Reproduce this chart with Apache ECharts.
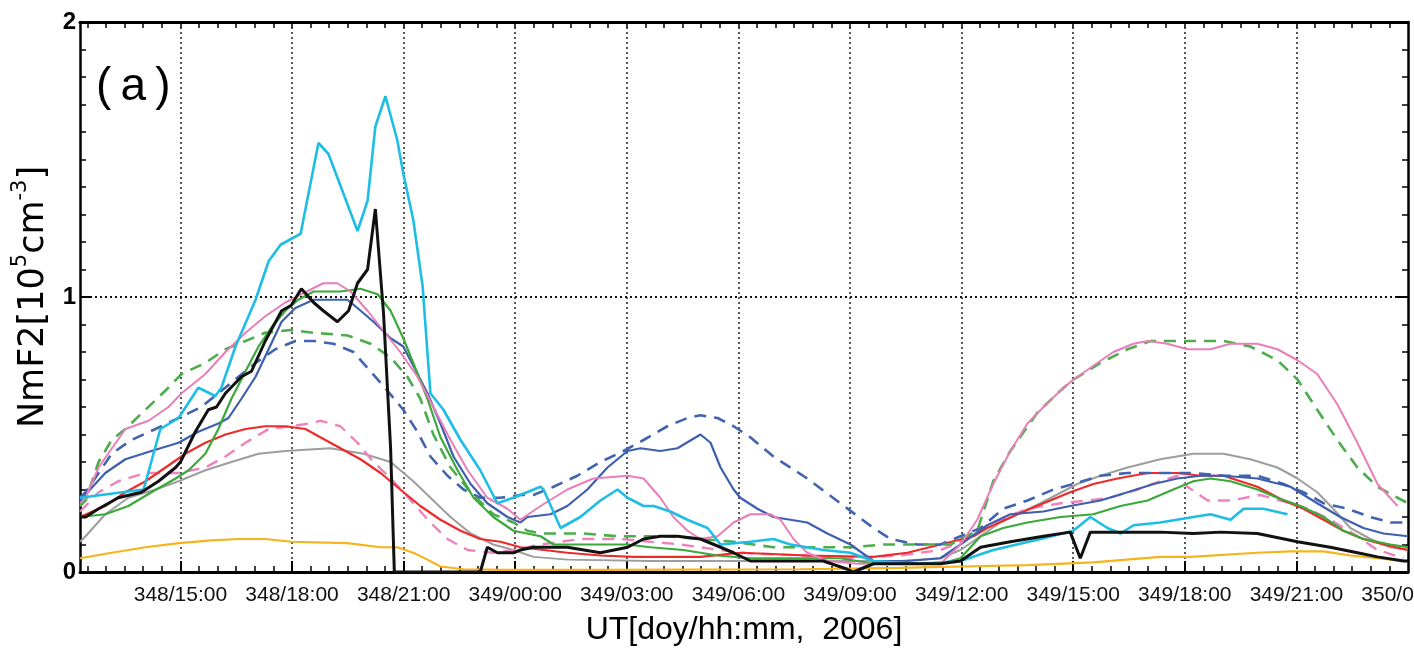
<!DOCTYPE html>
<html>
<head>
<meta charset="utf-8">
<title>NmF2 (a)</title>
<script src="https://cdn.jsdelivr.net/npm/echarts@6.0.0/dist/echarts.min.js"></script>
<style>
html, body { margin: 0; padding: 0; background: #fff; }
#chart { width: 1414px; height: 652px; }
</style>
</head>
<body>
<div id="chart"></div>
<script>
var chart = echarts.init(document.getElementById('chart'));

// x = hours from 348/00:00 UT (2006), y = NmF2 in 1e5 cm^-3
var xMin = 12.3, xMax = 48;
var majorHours = [15, 18, 21, 24, 27, 30, 33, 36, 39, 42, 45, 48];
var gridHours = [15, 18, 21, 24, 27, 30, 33, 36, 39, 42, 45];
var halfHours = [];
for (var h = 12.5; h < 48; h += 0.5) halfHours.push(h);

var cyanSolid = [[12.3,.27],[14.01,.30],[14.46,.52],[14.95,.56],[15.48,.67],[15.94,.64],[16.10,.67],[16.48,.82],[17.02,.99],[17.37,1.13],[17.69,1.19],[18.23,1.23],[18.71,1.56],[18.98,1.52],[19.76,1.24],[20.03,1.35],[20.24,1.62],[20.51,1.73],[20.83,1.57],[20.99,1.45],[21.26,1.28],[21.51,1.04],[21.72,.65],[22.07,.59],[22.53,.48],[23.06,.37],[23.52,.25],[23.95,.27],[24.68,.31],[24.76,.30],[25.22,.16],[25.75,.20],[26.29,.26],[26.75,.30],[27.02,.27],[27.45,.24],[27.72,.24],[28.17,.22],[28.63,.19],[29.17,.16],[29.52,.10],[30.32,.11],[30.94,.12],[31.40,.10],[32.28,.08],[33.01,.07],[33.63,.04],[34.89,.03],[35.97,.04],[36.85,.08],[38.12,.12],[39.0,.15],[39.46,.20],[39.92,.16],[40.27,.14],[40.62,.17],[41.34,.18],[42.23,.20],[42.69,.21],[43.23,.19],[43.58,.23],[44.11,.23],[44.76,.21]];

var blackSolid = [[12.3,.20],[12.45,.20],[12.80,.23],[13.33,.27],[13.95,.29],[14.41,.33],[14.87,.38],[15.0,.40],[15.40,.51],[15.75,.59],[15.97,.60],[16.21,.65],[16.64,.71],[16.91,.73],[17.28,.84],[17.72,.95],[17.98,.97],[18.25,1.03],[18.58,.98],[18.84,.95],[19.22,.91],[19.52,.95],[19.76,1.05],[20.03,1.10],[20.24,1.32],[20.46,.94],[20.65,.45],[20.75,0],[23.06,0],[23.25,.09],[23.52,.07],[23.95,.07],[24.14,.08],[24.49,.09],[25.40,.09],[26.29,.07],[27.02,.09],[27.45,.12],[27.90,.13],[28.36,.13],[28.98,.12],[29.52,.09],[29.87,.07],[30.32,.04],[31.40,.04],[32.28,.04],[32.93,.01],[33.09,0],[33.63,.03],[34.54,.03],[35.43,.03],[35.97,.04],[36.51,.09],[37.31,.11],[38.20,.13],[38.92,.145],[39.19,.05],[39.46,.145],[40.46,.145],[41.34,.145],[42.23,.14],[42.96,.145],[43.95,.14],[45.03,.11],[45.91,.09],[46.64,.07],[47.18,.055],[47.88,.04],[48,.04]];

var pinkSolid = [[12.3,.25],[12.45,.27],[12.80,.38],[13.52,.52],[14.14,.55],[14.68,.60],[15.03,.65],[15.67,.72],[16.21,.80],[16.75,.87],[17.28,.93],[17.82,.98],[18.25,1.01],[18.84,1.05],[19.22,1.05],[19.57,1.02],[20.03,.95],[20.38,.89],[20.91,.80],[21.37,.71],[21.80,.60],[22.26,.48],[22.72,.37],[23.25,.27],[23.79,.23],[24.14,.19],[24.68,.24],[25.40,.30],[26.10,.34],[27.02,.35],[27.45,.34],[27.90,.27],[28.25,.20],[28.63,.15],[28.98,.12],[29.44,.13],[29.87,.18],[30.32,.21],[30.86,.21],[31.13,.19],[31.48,.12],[31.85,.07],[32.39,.04],[33.20,.03],[35.43,.03],[35.97,.10],[36.42,.19],[36.85,.32],[37.31,.44],[37.77,.54],[38.20,.60],[38.66,.66],[39.01,.70],[39.54,.75],[40.08,.80],[40.62,.83],[41.00,.84],[41.53,.83],[42.07,.81],[42.69,.81],[43.23,.83],[43.95,.83],[44.49,.81],[45.03,.77],[45.56,.72],[46.10,.61],[46.64,.47],[47.18,.32],[47.72,.24]];

var greenSolid = [[12.3,.20],[12.98,.21],[13.60,.24],[14.22,.29],[14.87,.34],[15.22,.37],[15.67,.43],[16.02,.52],[16.37,.63],[16.75,.73],[17.10,.82],[17.45,.89],[17.82,.95],[18.17,.99],[18.58,1.02],[19.30,1.02],[19.84,1.03],[20.30,1.01],[20.65,.95],[20.99,.85],[21.26,.76],[21.64,.63],[21.99,.49],[22.45,.37],[22.88,.27],[23.41,.20],[23.95,.15],[24.68,.13],[25.03,.10],[25.83,.10],[27.02,.10],[27.63,.09],[28.52,.08],[29.44,.06],[30.32,.05],[31.85,.05],[32.74,.05],[33.63,.03],[35.43,.03],[35.97,.05],[36.51,.13],[37.12,.16],[37.77,.18],[38.66,.20],[39.54,.21],[40.27,.24],[41.00,.26],[41.69,.30],[42.23,.33],[42.69,.34],[43.23,.33],[43.95,.30],[44.49,.27],[45.11,.24],[45.73,.20],[46.26,.15],[46.80,.12],[47.53,.10],[48,.09]];

var blueSolid = [[12.3,.26],[12.98,.36],[13.52,.41],[14.22,.44],[14.95,.47],[15.48,.51],[16.02,.54],[16.29,.56],[16.64,.63],[17.02,.71],[17.37,.81],[17.72,.91],[18.09,.96],[18.58,.99],[19.49,.99],[19.76,.96],[20.19,.91],[20.65,.85],[20.99,.82],[21.26,.75],[21.64,.65],[21.99,.54],[22.34,.42],[22.80,.32],[23.25,.25],[23.79,.20],[24.14,.18],[24.33,.20],[24.95,.21],[25.40,.24],[25.94,.30],[26.48,.38],[27.02,.44],[27.37,.45],[27.90,.44],[28.36,.45],[28.98,.50],[29.25,.47],[29.52,.38],[29.87,.30],[30.05,.27],[30.51,.23],[30.94,.20],[31.85,.18],[32.39,.14],[33.01,.10],[33.63,.04],[34.54,.04],[35.43,.05],[35.97,.10],[36.69,.17],[37.31,.21],[38.20,.22],[38.92,.24],[39.73,.26],[40.46,.29],[41.16,.32],[41.80,.34],[42.42,.35],[43.04,.35],[43.95,.34],[44.84,.31],[45.56,.25],[46.18,.20],[46.80,.16],[47.34,.14],[48,.13]];

var greenDashed = [[12.3,.24],[12.45,.26],[12.80,.40],[13.15,.48],[13.52,.52],[14.06,.59],[14.60,.66],[15.03,.72],[15.67,.76],[16.21,.81],[16.75,.84],[17.28,.87],[17.96,.88],[18.58,.87],[19.49,.86],[20.11,.83],[20.65,.78],[21.10,.71],[21.45,.63],[21.80,.50],[22.26,.38],[22.80,.29],[23.41,.21],[23.95,.18],[24.33,.15],[24.68,.14],[25.83,.14],[26.75,.13],[28.09,.13],[28.98,.12],[29.87,.11],[30.94,.09],[33.01,.09],[33.90,.10],[35.70,.10],[36.42,.15],[36.85,.33],[37.31,.44],[38.04,.58],[38.66,.66],[39.01,.70],[39.73,.76],[40.46,.81],[41.08,.84],[41.80,.84],[42.42,.84],[43.04,.84],[43.76,.82],[44.49,.77],[45.03,.70],[45.56,.59],[46.10,.48],[46.64,.38],[47.18,.31],[47.72,.27],[48,.25]];

var blueDashed = [[12.3,.27],[12.45,.29],[13.15,.43],[13.68,.48],[14.33,.52],[14.95,.56],[15.56,.60],[16.02,.65],[16.56,.71],[17.02,.76],[17.55,.81],[18.09,.84],[18.58,.84],[19.11,.83],[19.65,.80],[20.11,.73],[20.56,.66],[20.99,.59],[21.37,.51],[21.72,.42],[22.18,.35],[22.61,.30],[23.06,.27],[23.60,.27],[24.14,.28],[24.49,.28],[25.03,.31],[25.67,.35],[26.29,.40],[26.91,.44],[27.45,.48],[28.09,.53],[28.63,.56],[28.98,.57],[29.44,.56],[29.87,.53],[30.32,.49],[30.94,.42],[31.85,.34],[32.74,.25],[33.63,.16],[34.09,.12],[34.81,.10],[35.43,.10],[35.97,.13],[36.51,.16],[37.12,.23],[37.77,.26],[38.47,.30],[39.01,.32],[39.73,.35],[40.46,.36],[41.34,.36],[42.23,.36],[43.04,.35],[43.95,.35],[44.65,.32],[45.19,.29],[45.73,.25],[46.37,.23],[46.99,.20],[47.53,.18],[48,.18]];

var redSolid = [[12.3,.20],[12.98,.24],[13.52,.29],[14.06,.33],[14.60,.38],[15.13,.43],[15.67,.47],[16.21,.50],[16.75,.52],[17.28,.53],[17.82,.53],[18.36,.52],[18.76,.49],[19.30,.45],[19.84,.41],[20.38,.36],[20.91,.30],[21.45,.24],[21.99,.19],[22.53,.15],[23.06,.12],[23.60,.11],[24.14,.09],[25.40,.07],[26.29,.06],[27.18,.055],[28.98,.055],[30.05,.07],[31.85,.06],[33.63,.055],[34.54,.07],[35.43,.10],[36.32,.13],[36.69,.16],[37.50,.21],[38.20,.25],[38.92,.29],[39.54,.32],[40.19,.34],[41.00,.36],[41.80,.36],[42.42,.35],[43.04,.35],[43.95,.31],[44.65,.26],[45.19,.23],[45.73,.19],[46.26,.15],[46.80,.12],[47.34,.10],[48,.08]];

var pinkDashed = [[12.3,.22],[12.45,.24],[12.80,.29],[13.33,.33],[14.06,.36],[14.95,.36],[15.67,.38],[16.21,.42],[16.75,.47],[17.37,.52],[17.98,.53],[18.44,.54],[18.76,.55],[19.30,.53],[19.76,.47],[20.19,.40],[20.73,.33],[21.26,.25],[21.72,.18],[22.18,.12],[22.72,.08],[23.41,.07],[23.95,.08],[24.68,.10],[25.75,.12],[26.83,.12],[28.44,.10],[30.05,.07],[31.67,.06],[33.01,.05],[34.35,.06],[35.43,.08],[35.97,.11],[36.85,.18],[37.77,.23],[38.66,.25],[39.38,.26],[40.00,.27],[40.73,.30],[41.34,.33],[41.80,.35],[42.07,.31],[42.61,.26],[43.23,.26],[44.03,.28],[44.84,.25],[45.30,.23],[45.91,.19],[46.64,.13],[47.18,.08],[47.88,.05]];

var graySolid = [[12.3,.11],[12.45,.13],[12.98,.21],[13.60,.27],[14.33,.30],[14.95,.33],[15.67,.37],[16.37,.40],[17.10,.43],[17.82,.44],[19.03,.45],[19.92,.43],[20.65,.40],[21.26,.33],[21.72,.27],[22.26,.20],[22.80,.14],[23.41,.10],[23.95,.08],[24.49,.055],[25.40,.045],[27.63,.04],[31.67,.04],[34.35,.04],[35.43,.05],[35.97,.08],[37.04,.18],[38.12,.25],[39.11,.32],[39.73,.35],[40.46,.38],[41.34,.41],[42.23,.43],[43.04,.43],[43.76,.41],[44.49,.38],[45.03,.34],[45.56,.29],[45.99,.23],[46.45,.16],[46.99,.12],[47.53,.09],[48,.08]];

var orangeSolid = [[12.3,.05],[13.15,.07],[14.06,.09],[14.95,.105],[15.83,.115],[16.56,.12],[17.28,.12],[17.98,.11],[19.49,.105],[20.38,.09],[20.83,.09],[21.26,.07],[21.64,.045],[21.99,.02],[22.61,.01],[23.60,.008],[26.29,.008],[31.67,.01],[34.35,.015],[35.97,.02],[37.77,.025],[39.54,.035],[41.34,.055],[42.15,.055],[43.95,.07],[44.84,.075],[45.73,.075],[46.45,.06],[47.18,.05],[47.88,.04]];

function fmtUT(v) {
  var day = 348 + Math.floor(v / 24);
  var hh = Math.round(v % 24);
  return day + '/' + (hh < 10 ? '0' : '') + hh + ':00';
}

function line(name, data, color, width, dashed) {
  return {
    name: name,
    type: 'line',
    data: data,
    showSymbol: false,
    silent: true,
    lineStyle: { color: color, width: width, type: dashed ? [12, 8] : 'solid' }
  };
}

var axisFont = 'Liberation Sans';

var option = {
  animation: false,
  backgroundColor: '#fff',
  grid: { left: 80, right: 6, top: 22, bottom: 80, outerBoundsMode: 'none' },
  graphic: [{
    type: 'text',
    left: 96,
    top: 64,
    style: { text: '(\u2009a\u2009)', fontSize: 46, fontFamily: axisFont, fill: '#000' }
  }],
  xAxis: [
    {
      type: 'value', position: 'bottom', min: xMin, max: xMax,
      axisLine: { lineStyle: { color: '#000', width: 3 } },
      axisTick: { inside: true, length: 11, customValues: gridHours, lineStyle: { color: '#000', width: 2 } },
      axisLabel: { customValues: majorHours, formatter: fmtUT, fontSize: 21, fontFamily: axisFont, color: '#111', margin: 13 },
      splitLine: { show: true, lineStyle: { color: '#222', width: 1.5, type: [2, 3] } },
      name: 'UT[doy/hh:mm,  2006]',
      nameLocation: 'middle', nameGap: 42,
      nameTextStyle: { fontSize: 32, fontFamily: axisFont, color: '#000' }
    },
    {
      type: 'value', position: 'bottom', min: xMin, max: xMax,
      axisLine: { show: false },
      axisTick: { inside: true, length: 6, customValues: halfHours, lineStyle: { color: '#000', width: 1.5 } },
      axisLabel: { show: false },
      splitLine: { show: false }
    },
    {
      type: 'value', position: 'top', min: xMin, max: xMax,
      axisLine: { lineStyle: { color: '#000', width: 3 } },
      axisTick: { inside: true, length: 6, customValues: halfHours, lineStyle: { color: '#000', width: 1.5 } },
      axisLabel: { show: false },
      splitLine: { show: false }
    }
  ],
  yAxis: [
    {
      type: 'value', position: 'left', min: 0, max: 2, interval: 1,
      axisLine: { show: true, lineStyle: { color: '#000', width: 2.5 } },
      axisTick: { inside: true, length: 12, lineStyle: { color: '#000', width: 2 } },
      minorTick: { show: true, splitNumber: 10, length: 6, lineStyle: { color: '#000', width: 1.5 } },
      axisLabel: { fontSize: 24, fontWeight: 'bold', fontFamily: axisFont, color: '#000', margin: 4 },
      splitLine: { show: true, lineStyle: { color: '#111', width: 2, type: [2, 3] } },
      name: '{n|NmF2[10}{s|5}{n|cm}{s|-3}{n|]}',
      nameLocation: 'middle', nameGap: 27,
      nameTextStyle: {
        rich: {
          n: { fontSize: 35, fontFamily: 'DejaVu Sans', color: '#000', verticalAlign: 'bottom', lineHeight: 42 },
          s: { fontSize: 21, fontFamily: 'DejaVu Sans', color: '#000', verticalAlign: 'top', lineHeight: 42 }
        }
      }
    },
    {
      type: 'value', position: 'right', min: 0, max: 2, interval: 1,
      axisLine: { show: true, lineStyle: { color: '#000', width: 2.5 } },
      axisTick: { inside: true, length: 12, lineStyle: { color: '#000', width: 2 } },
      minorTick: { show: true, splitNumber: 10, length: 6, lineStyle: { color: '#000', width: 1.5 } },
      axisLabel: { show: false },
      splitLine: { show: false }
    }
  ],
  series: [
    line('orange', orangeSolid, '#f6b41c', 2.2),
    line('gray', graySolid, '#9e9e9e', 2),
    line('pink dashed', pinkDashed, '#ee83bb', 2.4, true),
    line('red', redSolid, '#ee2b2b', 2.2),
    line('blue dashed', blueDashed, '#4064b0', 2.6, true),
    line('green dashed', greenDashed, '#4cad4c', 2.6, true),
    line('blue', blueSolid, '#3d5fae', 2.2),
    line('green', greenSolid, '#3aa83a', 2.2),
    line('pink', pinkSolid, '#e97fb8', 2),
    line('cyan', cyanSolid, '#1dbde4', 2.6),
    line('black', blackSolid, '#111111', 3)
  ]
};

chart.setOption(option);
</script>
</body>
</html>
